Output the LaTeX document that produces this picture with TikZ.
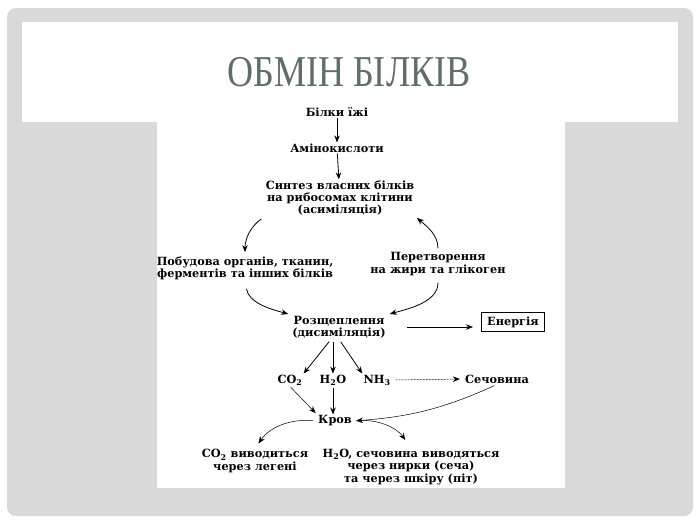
\documentclass[tikz,border=0pt]{standalone}
\usepackage{fontspec}
\setmainfont{DejaVu Serif}
\newfontfamily\titlefont{Liberation Serif}
\usetikzlibrary{arrows.meta}
\definecolor{framegray}{HTML}{D9D9D9}
\definecolor{titlecol}{HTML}{5E6E68}
\begin{document}
\begin{tikzpicture}[x=1pt,y=1pt,
  lbl/.style={font=\bfseries\fontsize{11.3}{12.2}\selectfont, align=center, inner sep=1pt},
  arr/.style={-{Stealth[length=7pt,width=5.5pt]}, line width=0.8pt},
  thinarr/.style={-{Stealth[length=7pt,width=5.5pt]}, line width=0.5pt}]
\useasboundingbox (0,0) rectangle (700,-525);
\fill[white] (0,0) rectangle (700,-525);
\fill[framegray, rounded corners=9pt] (7,-8) rectangle (693,-516);
\fill[white] (22,-22) rectangle (678,-122);
\fill[white] (157,-122) rectangle (565,-488);
\node[font=\titlefont\fontsize{44}{44}\selectfont, text=titlecol] (title) at (349,-72) {\scalebox{0.82}[1]{ОБМІН БІЛКІВ}};

\node[lbl] (bilky) at (337,-112) {Білки їжі};
\node[lbl] (amino) at (337,-148) {Амінокислоти};
\node[lbl] (synth) at (340,-198) {Синтез власних білків\\на рибосомах клітини\\(асиміляція)};
\node[lbl] (pobud) at (245,-268) {Побудова органів, тканин,\\ферментів та інших білків};
\node[lbl] (peretv) at (438,-264) {Перетворення\\на жири та глікоген};
\node[lbl] (rozsch) at (339,-327) {Розщеплення\\(дисиміляція)};
\node[lbl, draw, line width=0.6pt, inner xsep=6pt, inner ysep=4pt] (energ) at (513,-322) {Енергія};
\node[lbl] (co2) at (290,-380) {CO\textsubscript{2}};
\node[lbl] (h2o) at (333,-380) {H\textsubscript{2}O};
\node[lbl] (nh3) at (377,-380) {NH\textsubscript{3}};
\node[lbl] (sech) at (497,-379) {Сечовина};
\node[lbl] (krov) at (335,-421) {Кров};
\node[lbl] (co2out) at (255,-461) {CO\textsubscript{2} виводиться\\через легені};
\node[lbl] (h2oout) at (411,-467) {H\textsubscript{2}O, сечовина виводяться\\через нирки (сеча)\\та через шкіру (піт)};

\draw[arr] (bilky) -- (amino);
\draw[arr] (amino) -- (synth);
\draw[arr, shorten <=4pt, shorten >=3pt] (synth.south west) to[out=215,in=90] (pobud.north);
\draw[arr, shorten <=3pt, shorten >=2pt] (peretv.north) to[out=90,in=-40] (synth.south east);
\draw[arr, shorten <=8pt, shorten >=3pt] (pobud.south) to[out=-80,in=165] (rozsch.north west);
\draw[arr, shorten <=6pt, shorten >=3pt] (peretv.south) to[out=-90,in=15] (rozsch.north east);
\draw[thinarr, shorten <=20pt, shorten >=8pt] (rozsch.east) -- (energ.west |- rozsch.east);
\draw[arr, shorten <=3pt] (rozsch.south) ++(-8,0) coordinate (r1) (r1) -- (co2.north east);
\draw[arr, shorten <=3pt] (h2o.north |- rozsch.south) coordinate (r2) (r2) -- (h2o.north);
\draw[arr, shorten <=3pt] (rozsch.south) ++(0,0) coordinate (r3) (r3) -- (nh3.north west);
\draw[thinarr, dash pattern=on 2pt off 1pt, shorten <=4pt, shorten >=4pt] (nh3.east) -- (sech.west);
\draw[thinarr, shorten <=1pt, shorten >=2pt] (co2.south) -- (krov.north west);
\draw[arr, shorten <=2pt] (h2o.south) -- (krov.north -| h2o.south);
\draw[thinarr, shorten <=3pt, shorten >=3pt] (sech.south) to[bend left=10] (krov.east);
\draw[thinarr, shorten <=4pt, shorten >=6pt] (krov.west) to[out=175,in=55] (co2out.north);
\draw[thinarr, shorten <=4pt, shorten >=10pt] (krov.east) to[out=5,in=125] (h2oout.north);
\end{tikzpicture}
\end{document}
